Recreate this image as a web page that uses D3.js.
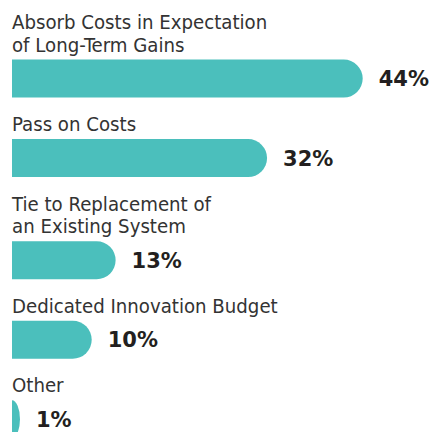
<!DOCTYPE html>
<html>
<head>
<meta charset="utf-8">
<script src="https://cdn.jsdelivr.net/npm/d3@7"></script>
<style>
  html, body { margin: 0; padding: 0; background: #fff; }
  svg { display: block; }
</style>
</head>
<body>
<svg width="430" height="432"></svg>
<script>
// categories (each label split in lines as in the original)
const categories = [
    ["Absorb Costs in Expectation", "of Long-Term Gains"],
    ["Pass on Costs"],
    ["Tie to Replacement of", "an Existing System"],
    ["Dedicated Innovation Budget"],
    ["Other"]
];
const values = [44, 32, 13, 10, 1];

const svg = d3.select("svg");
const left = 12,
    barH = 38,
    lineH = 22.6,
    firstBase = 29,
    barGap = 8,
    groupGap = 33.5;

const x = d3.scaleLinear().domain([0, 44]).range([0, 350.7]);

// work out vertical positions by stacking label lines and bars
let layout = [];
let base = firstBase;
categories.forEach((lines, i) => {
    const baselines = lines.map((_, j) => base + j * lineH);
    const barTop = baselines[baselines.length - 1] + barGap;
    layout.push({ lines, baselines, barTop, value: values[i] });
    base = barTop + barH + groupGap;
});

function barPath(w, y) {
    const rx = Math.min(barH / 2, w), ry = barH / 2;
    const x1 = left + w;
    return `M${left},${y}H${x1 - rx}A${rx},${ry} 0 0 1 ${x1},${y + ry}` +
        `A${rx},${ry} 0 0 1 ${x1 - rx},${y + barH}H${left}Z`;
}

const g = svg.selectAll("g.item")
    .data(layout)
    .enter().append("g")
    .attr("class", "item");

g.selectAll("text.cat")
    .data(d => d.lines.map((t, j) => ({ t, y: d.baselines[j] })))
    .enter().append("text")
    .attr("class", "cat")
    .attr("x", left)
    .attr("y", d => d.y)
    .attr("font-family", "'DejaVu Sans Condensed', sans-serif")
    .attr("font-size", 20.2)
    .attr("fill", "#333333")
    .text(d => d.t);

g.append("path")
    .attr("d", d => barPath(x(d.value), d.barTop))
    .attr("fill", "#4bbfbc");

g.append("text")
    .attr("class", "val")
    .attr("x", d => left + x(d.value) + 16)
    .attr("y", d => d.barTop + barH / 2 + 7.5)
    .attr("font-family", "'DejaVu Sans', sans-serif")
    .attr("font-weight", "bold")
    .attr("font-size", 21)
    .attr("fill", "#231f20")
    .text(d => d.value + "%");
</script>
</body>
</html>
